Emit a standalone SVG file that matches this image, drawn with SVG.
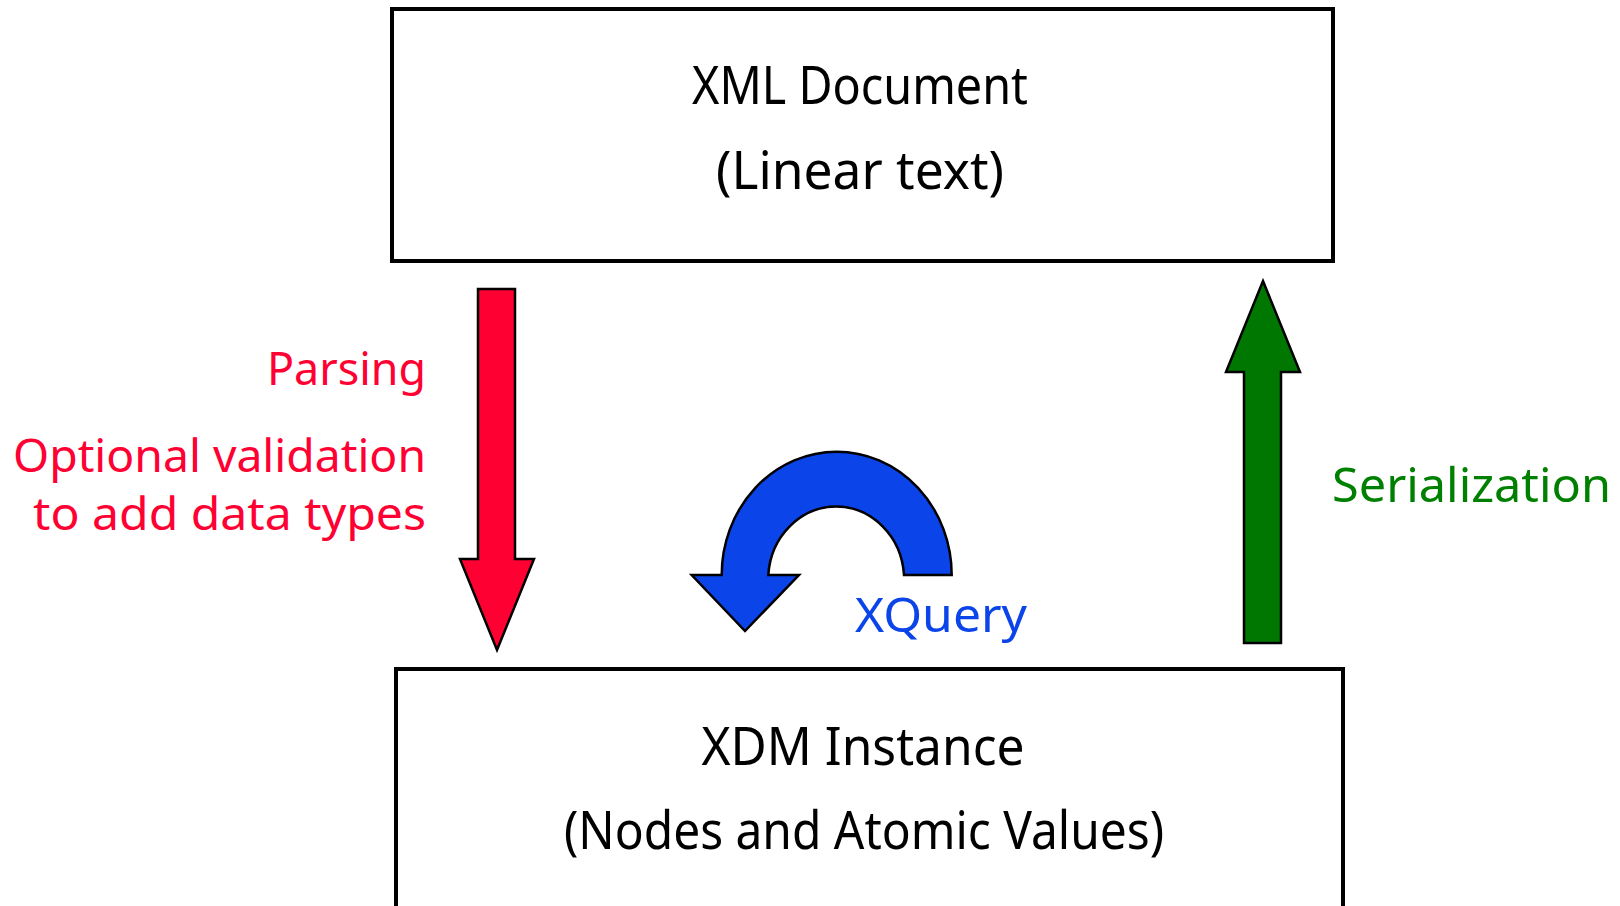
<svg xmlns="http://www.w3.org/2000/svg" width="1620" height="906" viewBox="0 0 1620 906">
  <style>
    .box { fill: #ffffff; stroke: #000000; stroke-width: 4; }
    .arrow { stroke: #000000; stroke-width: 2.5; stroke-linejoin: miter; }
    .lbl { font-family: "Noto Sans", "DejaVu Sans", sans-serif; }
    .big { font-size: 52px; fill: #000000; text-anchor: middle; }
    .red { font-size: 46px; fill: #ff0033; text-anchor: end; }
    .blue { font-size: 48px; fill: #0b44e8; }
    .green { font-size: 48px; fill: #008000; }
  </style>
  <rect x="0" y="0" width="1620" height="906" fill="#ffffff"/>

  <g id="xml-document">
    <rect class="box" x="392" y="9" width="941" height="252"/>
    <text class="lbl big" x="860" y="104" textLength="336" lengthAdjust="spacingAndGlyphs">XML Document</text>
    <text class="lbl big" x="860" y="189" textLength="288" lengthAdjust="spacingAndGlyphs">(Linear text)</text>
  </g>

  <g id="xdm-instance">
    <rect class="box" x="396" y="669" width="947" height="260"/>
    <text class="lbl big" x="863" y="765" textLength="323" lengthAdjust="spacingAndGlyphs">XDM Instance</text>
    <text class="lbl big" x="864" y="849" textLength="600" lengthAdjust="spacingAndGlyphs">(Nodes and Atomic Values)</text>
  </g>

  <g id="connectors">
    <!-- parsing: downward arrow -->
    <polygon class="arrow" fill="#ff0033" points="478,289 515,289 515,559 534,559 497,650 460,559 478,559"/>
    <!-- serialization: upward arrow -->
    <polygon class="arrow" fill="#007700" points="1263,281 1300,372 1281,372 1281,643 1244,643 1244,372 1226,372"/>
    <!-- xquery: curved arrow looping back onto the instance -->
    <path class="arrow" fill="#0b44e8" d="M 951.7,575 A 115 123.3 0 0 0 721.7,575 L 691.7,575 L 745,631 L 799,575 L 768.3,575 A 68 73.3 0 0 1 904,575 Z"/>
  </g>

  <g id="labels">
    <text class="lbl red" x="426" y="385" textLength="159" lengthAdjust="spacingAndGlyphs">Parsing</text>
    <text class="lbl red" x="426" y="472" textLength="413" lengthAdjust="spacingAndGlyphs">Optional validation</text>
    <text class="lbl red" x="426" y="530" textLength="393" lengthAdjust="spacingAndGlyphs">to add data types</text>
    <text class="lbl blue" x="855" y="632" textLength="172" lengthAdjust="spacingAndGlyphs">XQuery</text>
    <text class="lbl green" x="1332" y="502" textLength="279" lengthAdjust="spacingAndGlyphs">Serialization</text>
  </g>
</svg>
